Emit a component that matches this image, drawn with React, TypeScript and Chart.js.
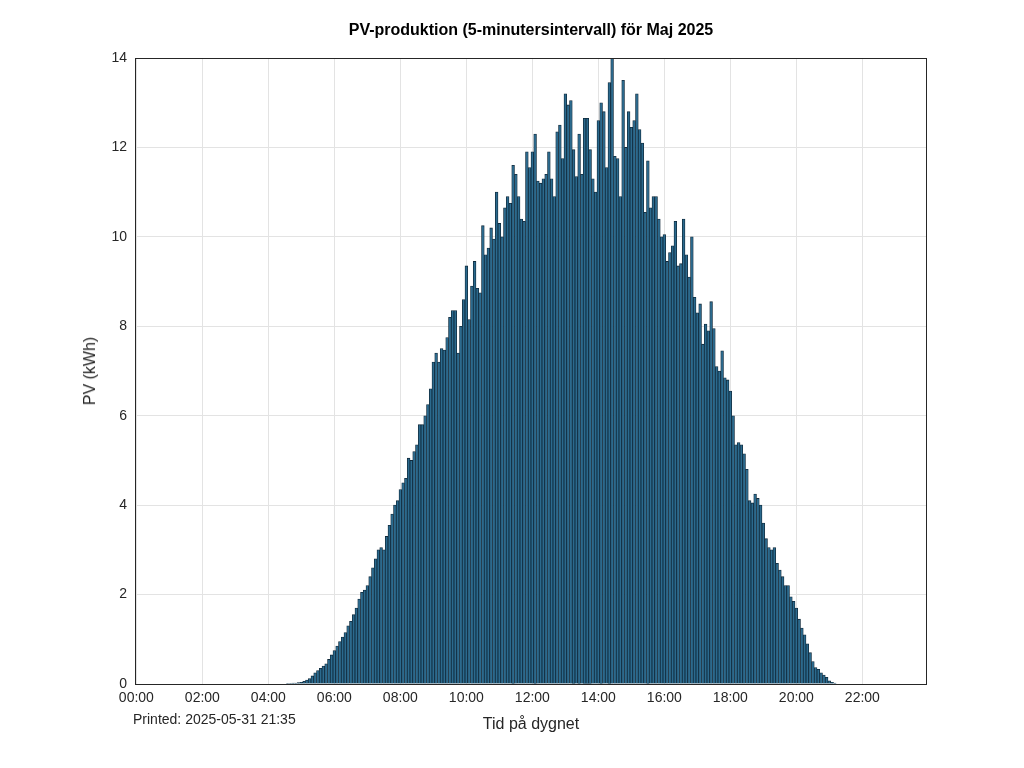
import React, { useEffect, useRef } from "react";
import { Chart, registerables } from "chart.js";
Chart.register(...registerables);

const h00to03: number[] = new Array(48).fill(0);
const h04 = [0, 0, 0, 0, 0, 0, 0, 0.01, 0.01, 0.02, 0.02, 0.03];
const h05 = [0.04, 0.06, 0.09, 0.12, 0.18, 0.25, 0.3, 0.35, 0.4, 0.45, 0.55, 0.65];
const h06 = [0.75, 0.85, 0.95, 1.05, 1.15, 1.3, 1.4, 1.55, 1.7, 1.9, 2.05, 2.1];
const h07 = [2.2, 2.4, 2.6, 2.8, 3.0, 3.05, 3.0, 3.3, 3.55, 3.8, 4.0, 4.1];
const h08 = [4.35, 4.5, 4.6, 5.05, 5.0, 5.2, 5.35, 5.8, 5.8, 6.0, 6.25, 6.6];
const h09 = [7.2, 7.4, 7.2, 7.5, 7.47, 7.75, 8.2, 8.35, 8.35, 7.4, 8.0, 8.6];
const h10 = [9.35, 8.15, 8.9, 9.45, 8.85, 8.75, 10.25, 9.6, 9.75, 10.2, 9.95, 11.0];
const h11 = [10.3, 10.0, 10.65, 10.9, 10.75, 11.6, 11.4, 10.9, 10.4, 10.35, 11.9, 11.55];
const h12 = [11.9, 12.3, 11.25, 11.2, 11.3, 11.4, 11.9, 11.3, 10.9, 12.35, 12.5, 11.75];
const h13 = [13.2, 12.95, 13.05, 11.95, 11.35, 12.3, 11.4, 12.65, 12.65, 11.95, 11.3, 11.0];
const h14 = [12.6, 13.0, 12.8, 11.55, 13.45, 14.0, 11.8, 11.75, 10.9, 13.5, 12.0, 12.8];
const h15 = [12.45, 12.6, 13.2, 12.4, 12.1, 10.55, 11.7, 10.65, 10.9, 10.9, 10.4, 10.0];
const h16 = [10.05, 9.45, 9.65, 9.8, 10.35, 9.35, 9.4, 10.4, 9.6, 9.1, 10.0, 8.65];
const h17 = [8.3, 8.5, 7.6, 8.05, 7.9, 8.55, 7.95, 7.1, 7.0, 7.45, 6.85, 6.8];
const h18 = [6.55, 6.0, 5.35, 5.4, 5.35, 5.15, 4.8, 4.1, 4.05, 4.25, 4.15, 4.0];
const h19 = [3.6, 3.25, 3.05, 3.0, 3.05, 2.7, 2.55, 2.4, 2.2, 2.2, 1.95, 1.85];
const h20 = [1.7, 1.45, 1.25, 1.1, 0.9, 0.7, 0.5, 0.37, 0.33, 0.25, 0.2, 0.15];
const h21 = [0.07, 0.04, 0.02, 0, 0, 0, 0, 0, 0, 0, 0, 0];
const h22to23: number[] = new Array(24).fill(0);

const pvValues = [
  ...h00to03, ...h04, ...h05, ...h06, ...h07, ...h08, ...h09, ...h10, ...h11,
  ...h12, ...h13, ...h14, ...h15, ...h16, ...h17, ...h18, ...h19, ...h20, ...h21, ...h22to23,
];
const timeLabels = pvValues.map((_, i) => {
  const m = i * 5;
  return String(Math.floor(m / 60)).padStart(2, "0") + ":" + String(m % 60).padStart(2, "0");
});

const FONT = "'Liberation Sans', Arial, sans-serif";

const framePlugin = {
  id: "frame",
  afterDraw(chart: any) {
    const { ctx, chartArea: a } = chart;
    ctx.save();
    ctx.strokeStyle = "#262626";
    ctx.lineWidth = 1;
    ctx.strokeRect(a.left + 0.5, a.top + 0.5, a.right - a.left - 1, a.bottom - a.top);
    ctx.restore();
  },
};

export default function App() {
  const ref = useRef<HTMLCanvasElement>(null);
  useEffect(() => {
    const chart = new Chart(ref.current!, {
      type: "bar",
      data: {
        labels: timeLabels,
        datasets: [{
          data: pvValues,
          backgroundColor: "#2b6a8e",
          borderColor: "#10293a",
          borderWidth: 0.8,
          barPercentage: 1,
          categoryPercentage: 1,
        }],
      },
      options: {
        animation: false,
        responsive: false,
        layout: { padding: { left: 0, right: 97, top: 58, bottom: 0 } },
        plugins: { legend: { display: false }, title: { display: false }, tooltip: { enabled: false } },
        scales: {
          x: {
            offset: true,
            afterFit: (s: any) => { s.height = 84; },
            grid: { offset: false, color: (c: any) => (c.index % 24 === 0 ? "#e3e3e3" : "transparent"), drawTicks: false },
            border: { display: false },
            ticks: {
              autoSkip: false, maxRotation: 0, color: "#262626", padding: 6,
              font: { family: FONT, size: 14 },
              callback: (_v: any, i: number) => (i % 24 === 0 ? timeLabels[i] : ""),
            },
          },
          y: {
            min: 0, max: 14,
            afterFit: (s: any) => { s.width = 135; },
            grid: { color: "#e3e3e3", drawTicks: false },
            border: { display: false },
            ticks: { stepSize: 2, color: "#262626", padding: 8, font: { family: FONT, size: 14 } },
          },
        },
      },
      plugins: [framePlugin],
    });
    return () => chart.destroy();
  }, []);
  return (
    <div style={{ position: "fixed", left: 0, top: 0, width: 1024, height: 768, background: "#fff", fontFamily: FONT, color: "#262626" }}>
      <canvas ref={ref} width={1024} height={768} style={{ position: "absolute", left: 0, top: 0 }} />
      <div style={{ position: "absolute", left: 0, width: 1062, top: 21, textAlign: "center", fontWeight: "bold", fontSize: 16, color: "#000" }}>
        PV-produktion (5-minutersintervall) för Maj 2025
      </div>
      <div style={{ position: "absolute", left: 0, width: 1062, top: 715, textAlign: "center", fontSize: 16 }}>Tid på dygnet</div>
      <div style={{ position: "absolute", left: 133, top: 711, fontSize: 14 }}>Printed: 2025-05-31 21:35</div>
      <div style={{ position: "absolute", left: 90, top: 371, transform: "translate(-50%,-50%) rotate(-90deg)", fontSize: 16, whiteSpace: "nowrap" }}>PV (kWh)</div>
    </div>
  );
}
